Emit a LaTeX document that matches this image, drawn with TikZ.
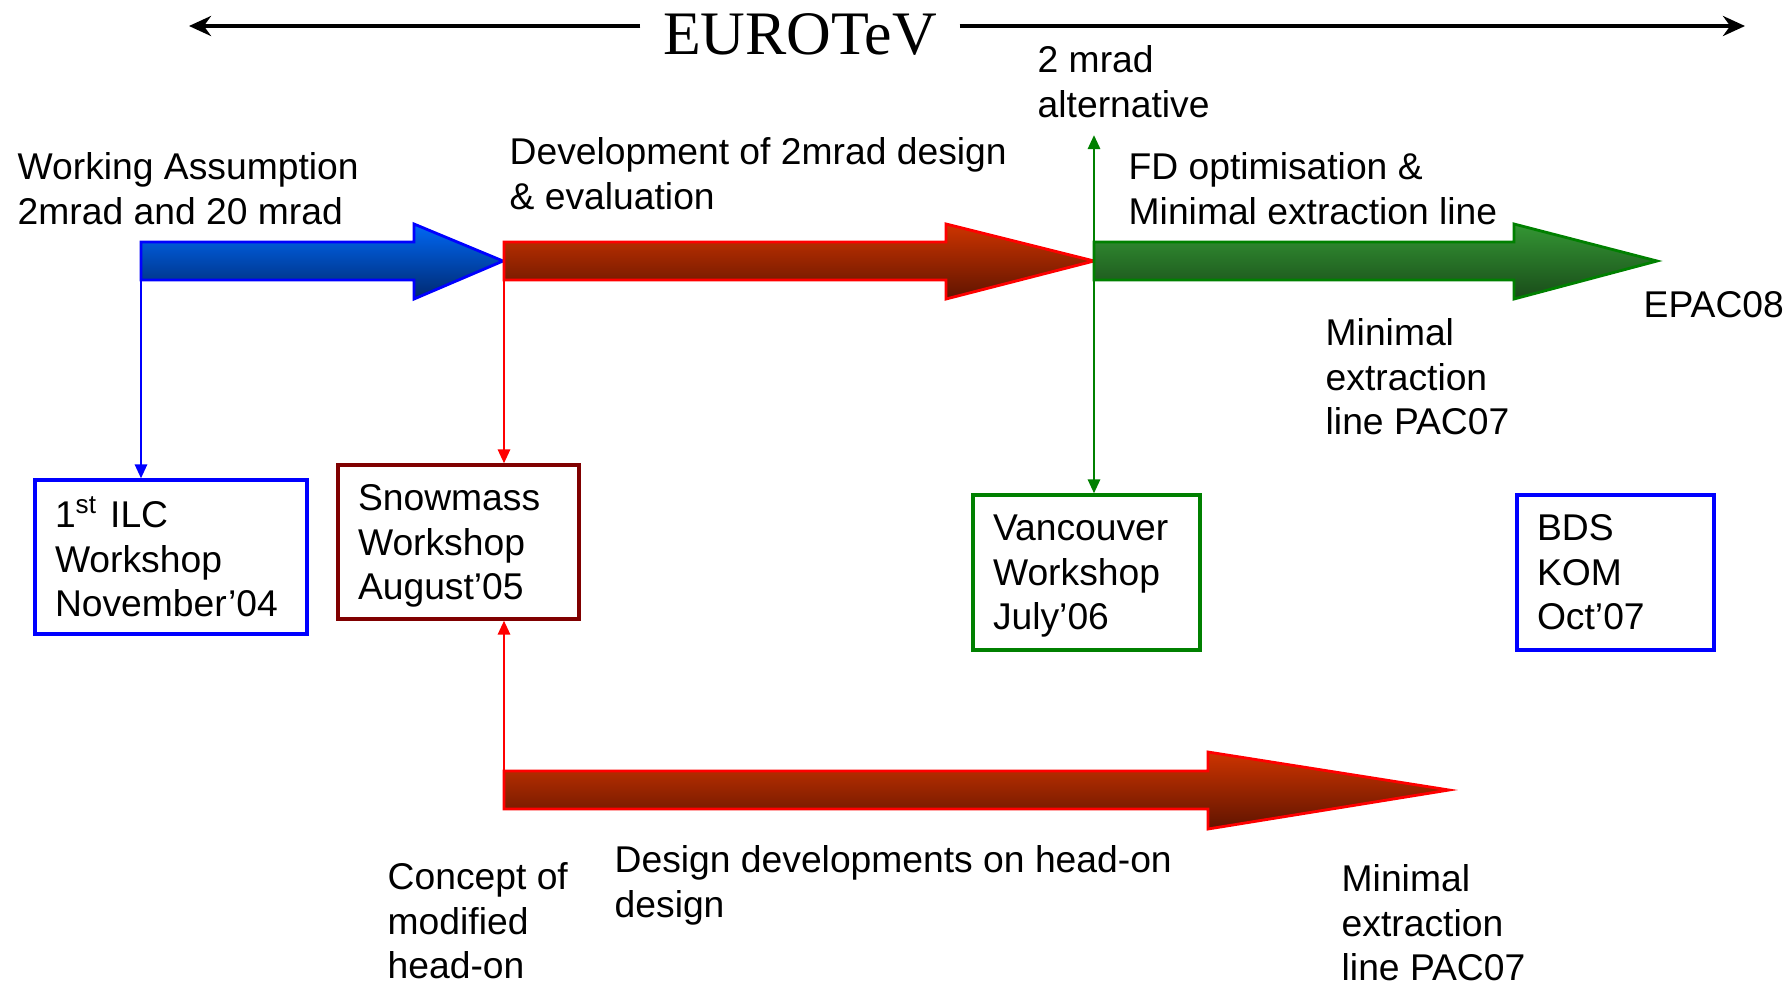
\documentclass[tikz,border=0pt]{standalone}
\usepackage{fontspec}
\setmainfont{Liberation Sans}
\newfontfamily\eurofont{Liberation Serif}
\usetikzlibrary{arrows.meta}
\definecolor{pptblue}{RGB}{0,0,255}
\definecolor{pptred}{RGB}{255,0,0}
\definecolor{pptgreen}{RGB}{0,128,0}
\definecolor{snowred}{RGB}{128,0,0}
\definecolor{bluetop}{RGB}{0,104,245}
\definecolor{bluebot}{RGB}{0,40,110}
\definecolor{redtop}{RGB}{205,52,0}
\definecolor{redbot}{RGB}{95,20,0}
\definecolor{greentop}{RGB}{52,150,52}
\definecolor{greenbot}{RGB}{25,75,25}

\begin{document}
\begin{tikzpicture}[
    >={Triangle[length=1.4mm,width=1.2mm]},
    txt/.style={font=\fontsize{10.6}{12.7}\selectfont, align=left,
      inner sep=0pt, anchor=north west},
    wsbox/.style={draw=#1, line width=0.9pt, align=left, inner xsep=0.2cm,
      font=\fontsize{10.6}{12.7}\selectfont, minimum height=1.54cm},
    link/.style={line width=0.8pt, ->},
    fat/.style={line width=0.8pt},
  ]
    \useasboundingbox (0,0) rectangle (17.92,-9.84);

    % EUROTeV span
    \node[font=\eurofont\fontsize{17.6}{20}\selectfont, inner xsep=0.22cm,
      anchor=base] (euro) at (8.00,-0.54) {EUROTeV};
    \coordinate (eustart) at (1.89,-0.26);
    \coordinate (euend) at (17.45,-0.26);
    \draw[line width=1.2pt, -{Stealth[length=2.2mm,width=2mm]}]
      (eustart -| euro.west) -- (eustart);
    \draw[line width=1.2pt, -{Stealth[length=2.2mm,width=2mm]}]
      (euend -| euro.east) -- (euend);

    % fat arrows
    \path[fat, draw=pptblue, top color=bluetop, bottom color=bluebot]
      (1.41,-2.42) -- (4.14,-2.42) -- (4.14,-2.24) -- (5.03,-2.61)
      -- (4.14,-2.99) -- (4.14,-2.80) -- (1.41,-2.80) -- cycle;
    \path[fat, draw=pptred, top color=redtop, bottom color=redbot]
      (5.04,-2.42) -- (9.46,-2.42) -- (9.46,-2.24) -- (10.94,-2.61)
      -- (9.46,-2.99) -- (9.46,-2.80) -- (5.04,-2.80) -- cycle;
    \path[fat, draw=pptgreen, top color=greentop, bottom color=greenbot]
      (10.94,-2.42) -- (15.14,-2.42) -- (15.14,-2.24) -- (16.57,-2.61)
      -- (15.14,-2.99) -- (15.14,-2.80) -- (10.94,-2.80) -- cycle;
    \path[fat, draw=pptred, top color=redtop, bottom color=redbot]
      (5.04,-7.71) -- (12.08,-7.71) -- (12.08,-7.52) -- (14.49,-7.90)
      -- (12.08,-8.29) -- (12.08,-8.09) -- (5.04,-8.09) -- cycle;
    \coordinate (wa) at (1.41,-2.80);
    \coordinate (dev) at (5.04,-2.80);
    \coordinate (alt) at (10.94,-1.35);
    \coordinate (hon) at (5.04,-7.71);

    % workshops
    \node[wsbox=pptblue, text width=2.32cm] (ilc) at (1.71,-5.57)
      {1\textsuperscript{st} ILC\\Workshop\\November’04};
    \node[wsbox=snowred, text width=2.01cm] (snow) at (4.585,-5.42)
      {Snowmass\\Workshop\\\smash{August’05}};
    \node[wsbox=pptgreen, text width=1.87cm, minimum height=1.55cm] (van)
      at (10.865,-5.725) {Vancouver\\Workshop\\\smash{July’06}};
    \node[wsbox=pptblue, text width=1.57cm, minimum height=1.55cm] (bds)
      at (16.155,-5.725) {BDS\\KOM\\Oct’07};

    \draw[link, pptblue] (wa) -- (wa |- ilc.north);
    \draw[link, pptred] (dev) -- (dev |- snow.north);
    \draw[link, pptred] (hon) -- (hon |- snow.south);
    \draw[link, pptgreen, <->] (alt) -- (alt |- van.north);

    % labels
    \node[txt] (wlbl) at (0.17,-1.52) {Working Assumption\\2mrad and 20 mrad};
    \node[txt] (dlbl) at (5.09,-1.37) {Development of 2mrad design\\\& evaluation};
    \node[txt] (albl) at (10.37,-0.45) {2 mrad\\alternative};
    \node[txt] (flbl) at (11.28,-1.52) {FD optimisation \&\\Minimal extraction line};
    \node[txt, anchor=base west] (elbl) at (16.43,-3.17) {EPAC08};
    \node[txt] (mlbl) at (13.25,-3.18) {Minimal\\extraction\\line PAC07};
    \node[txt] (clbl) at (3.87,-8.62) {Concept of\\modified\\head-on};
    \node[txt] (hlbl) at (6.14,-8.45) {Design developments on head-on\\design};
    \node[txt] (m2lbl) at (13.41,-8.64) {Minimal\\extraction\\line PAC07};
\end{tikzpicture}
\end{document}
